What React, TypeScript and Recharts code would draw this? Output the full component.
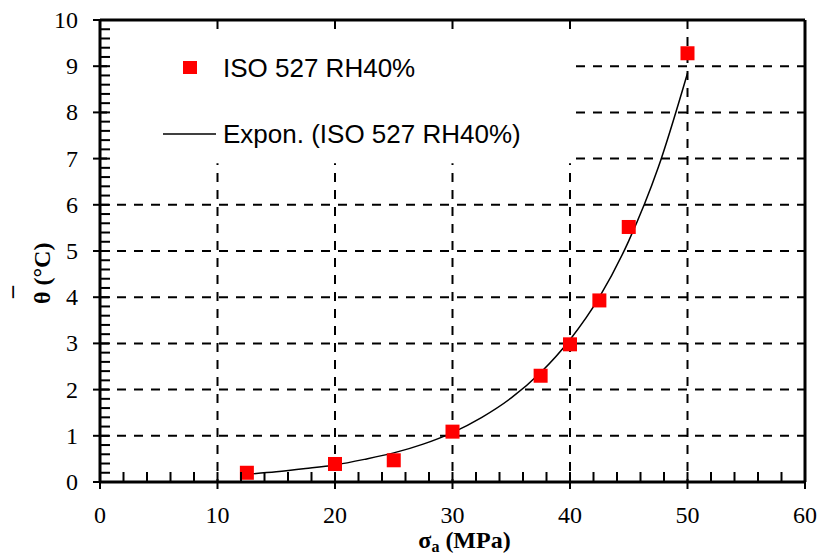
import {
  ComposedChart,
  CartesianGrid,
  Legend,
  Line,
  ReferenceArea,
  Scatter,
  XAxis,
  YAxis,
} from "recharts";

// measured points
const stressLevels = [12.5, 20, 25, 30, 37.5, 40, 42.5, 45, 50];
const tempRise = [0.2, 0.39, 0.47, 1.09, 2.3, 2.98, 3.93, 5.52, 9.28];

// exponential trendline
const trendStress = [12.5, 15, 17.5, 20, 22.5, 25, 27.5, 30, 32.5, 35, 37.5, 40, 42.5, 45, 47.5, 50];
const trendTemp = [0.17, 0.22, 0.29, 0.37, 0.49, 0.63, 0.82, 1.07, 1.4, 1.82, 2.37, 3.08, 4.0, 5.22, 6.8, 8.85];

const xMajor = [0, 10, 20, 30, 40, 50, 60];
const yMajor = [0, 1, 2, 3, 4, 5, 6, 7, 8, 9, 10];
const xGrid = [10, 20, 30, 40, 50];
const yGrid = [1, 2, 3, 4, 5, 6, 7, 8, 9];

// minor ticks: 5 per major step
const xTicks = xMajor.flatMap((v, i) =>
  i === 0 ? [v] : [1, 2, 3, 4, 5].map((k) => xMajor[i - 1] + (k * (v - xMajor[i - 1])) / 5)
);
const yTicks = yMajor.flatMap((v, i) =>
  i === 0 ? [v] : [1, 2, 3, 4, 5].map((k) => +(yMajor[i - 1] + (k * (v - yMajor[i - 1])) / 5).toFixed(2))
);

const points = stressLevels.map((x, i) => ({ x, y: tempRise[i] }));
const trend = trendStress.map((x, i) => ({ x, y: trendTemp[i] }));

const SERIF = '"Liberation Serif", "Times New Roman", serif';
const SANS = '"Liberation Sans", Arial, sans-serif';

function XTick({ x, y, payload }: any) {
  const major = xMajor.includes(payload.value);
  return (
    <g>
      <line x1={x} x2={x} y1={y - 10} y2={major ? y + 7 : y} stroke="#000" strokeWidth={2} />
      {major && (
        <text x={x} y={y + 41} textAnchor="middle" fontFamily={SERIF} fontSize={24} fill="#000">
          {payload.value}
        </text>
      )}
    </g>
  );
}

function YTick({ x, y, payload }: any) {
  const major = yMajor.includes(payload.value);
  return (
    <g>
      <line x1={major ? x - 7 : x} x2={x + 10} y1={y} y2={y} stroke="#000" strokeWidth={2} />
      {major && (
        <text x={x - 22} y={y + 8} textAnchor="end" fontFamily={SERIF} fontSize={24} fill="#000">
          {payload.value}
        </text>
      )}
    </g>
  );
}

function XLabel({ viewBox }: any) {
  const cx = viewBox.x + viewBox.width / 2 + 12;
  return (
    <text x={cx} y={548} textAnchor="middle" fontFamily={SERIF} fontWeight="bold" fontSize={24} fill="#000">
      <tspan>σ</tspan>
      <tspan fontSize={16} dy={4}>a</tspan>
      <tspan dy={-4}> (MPa)</tspan>
    </text>
  );
}

function YLabel() {
  return (
    <g fontFamily={SERIF} fontWeight="bold" fontSize={24} fill="#000">
      <text transform="translate(50,304) rotate(-90)">θ (°C)</text>
      <text transform="translate(30,298) rotate(-90)">¯</text>
    </g>
  );
}

function SquareDot({ cx, cy }: any) {
  return <rect x={cx - 7} y={cy - 7} width={14} height={14} fill="#ff0000" />;
}

function LegendBox({ payload }: any) {
  return (
    <svg width={400} height={120} style={{ display: "block" }}>
      {(payload || []).map((item: any) => {
        const isLine = item.type === "line";
        const cy = isLine ? 94 : 28;
        return (
          <g key={item.value}>
            {isLine ? (
              <line x1={13} x2={66} y1={cy} y2={cy} stroke="#000" strokeWidth={1.5} />
            ) : (
              <rect x={33} y={cy - 7} width={14} height={13} fill={item.color} />
            )}
            <text x={73} y={cy + 9} fontFamily={SANS} fontSize={26} fill="#000">
              {item.value}
            </text>
          </g>
        );
      })}
    </svg>
  );
}

export default function App() {
  return (
    <div style={{ position: "absolute", left: 0, top: 0, background: "#fff" }}>
      <ComposedChart width={820} height={556} margin={{ top: 0, right: 0, bottom: 0, left: 0 }}>
        <CartesianGrid
          horizontalValues={yGrid}
          verticalValues={xGrid}
          stroke="#000"
          strokeWidth={2}
          strokeDasharray="9 8"
        />
        <ReferenceArea x1={0.6} x2={40.5} y1={6.9} y2={9.78} fill="#fff" fillOpacity={1} stroke="none" />
        <XAxis
          dataKey="x"
          type="number"
          domain={[0, 60]}
          ticks={xTicks}
          interval={0}
          height={74}
          tick={<XTick />}
          tickLine={false}
          tickSize={0}
          tickMargin={0}
          axisLine={{ stroke: "#000", strokeWidth: 3 }}
          label={<XLabel />}
        />
        <XAxis
          xAxisId="top"
          orientation="top"
          type="number"
          domain={[0, 60]}
          height={20}
          tick={false}
          tickLine={false}
          axisLine={{ stroke: "#000", strokeWidth: 3 }}
        />
        <YAxis
          type="number"
          domain={[0, 10]}
          ticks={yTicks}
          interval={0}
          width={100}
          tick={<YTick />}
          tickLine={false}
          tickSize={0}
          tickMargin={0}
          axisLine={{ stroke: "#000", strokeWidth: 3 }}
          label={<YLabel />}
        />
        <YAxis
          yAxisId="right"
          orientation="right"
          type="number"
          domain={[0, 10]}
          width={15}
          tick={false}
          tickLine={false}
          axisLine={{ stroke: "#000", strokeWidth: 3 }}
        />
        <Legend
          layout="horizontal"
          verticalAlign="middle"
          align="center"
          wrapperStyle={{ left: 150, top: 40, width: 400, height: 120 }}
          content={<LegendBox />}
        />
        <Scatter
          name="ISO 527 RH40%"
          data={points}
          dataKey="y"
          fill="#ff0000"
          legendType="square"
          shape={<SquareDot />}
          isAnimationActive={false}
        />
        <Line
          name="Expon. (ISO 527 RH40%)"
          data={trend}
          dataKey="y"
          type="monotone"
          stroke="#000"
          strokeWidth={1.5}
          dot={false}
          legendType="line"
          isAnimationActive={false}
        />
      </ComposedChart>
    </div>
  );
}
